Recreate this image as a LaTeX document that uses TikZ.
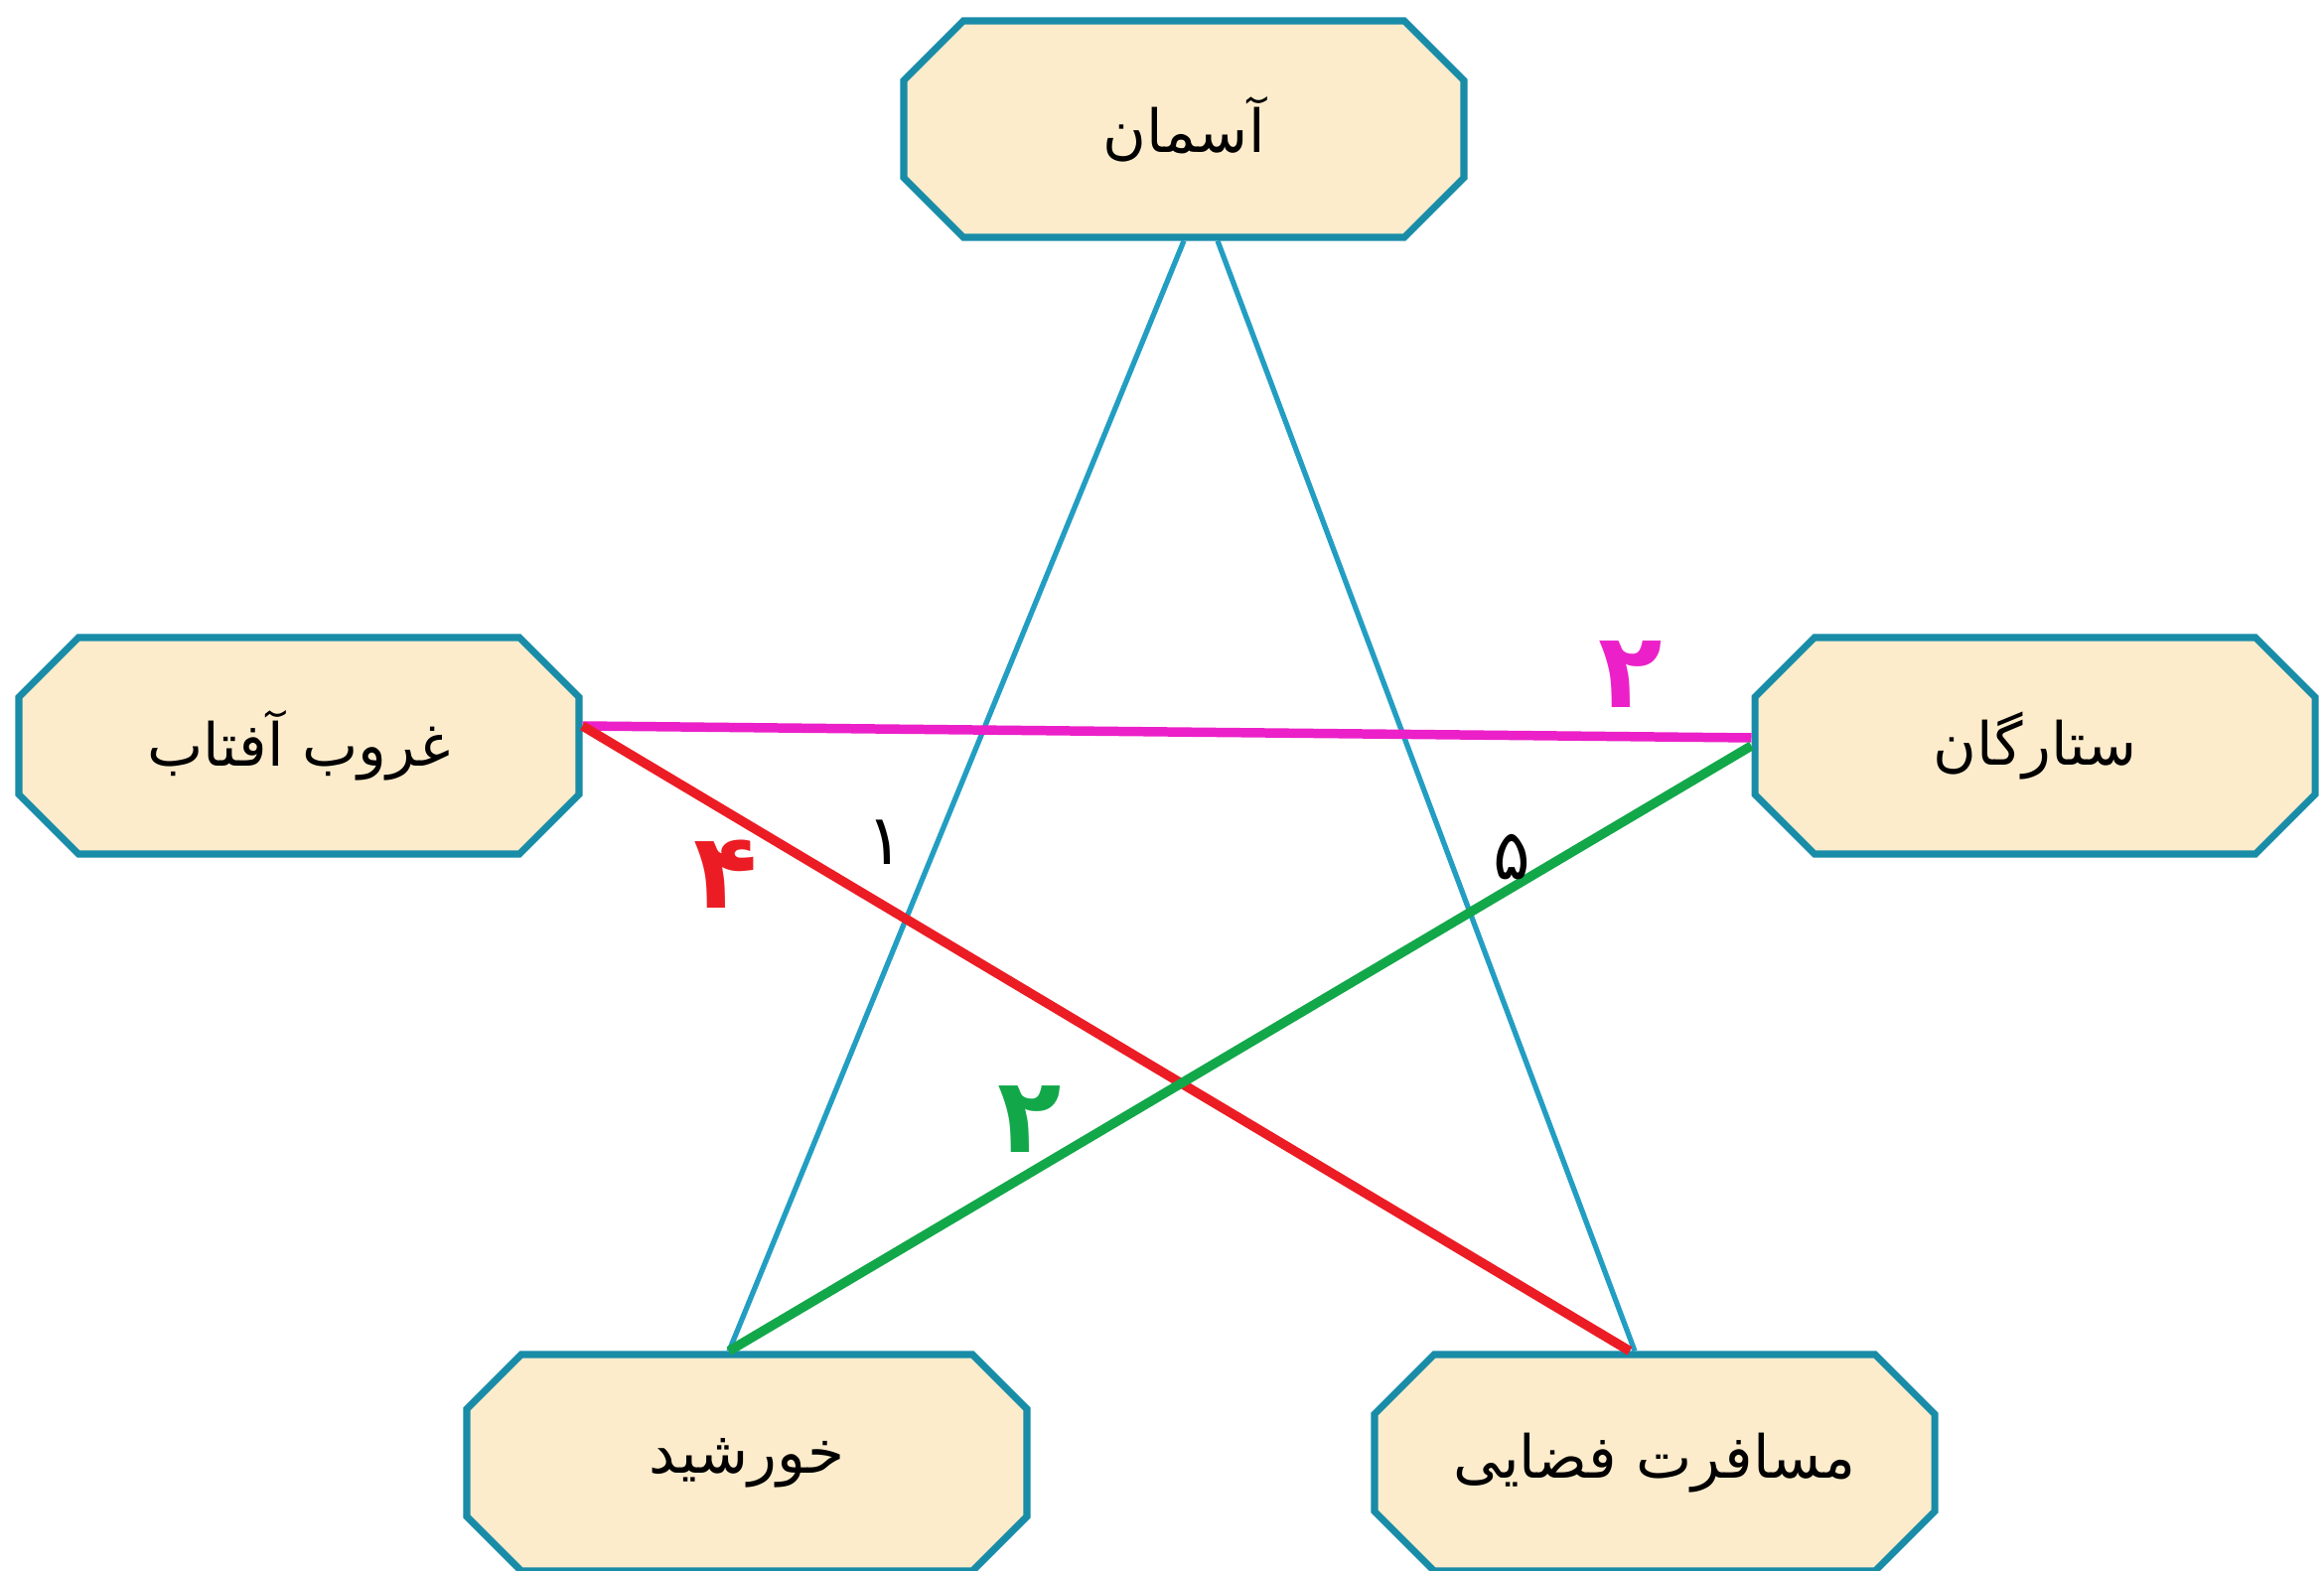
\documentclass[tikz,border=0pt]{standalone}
\usepackage{fontspec}
\newfontfamily\arabicfont[Script=Arabic]{DejaVu Sans}
\TeXXeTstate=1
\usetikzlibrary{shapes.misc, positioning, calc}
\definecolor{boxedge}{RGB}{25,140,168}
\definecolor{boxfill}{RGB}{252,236,204}
\definecolor{linkblue}{RGB}{35,158,195}
\definecolor{linkred}{RGB}{236,28,36}
\definecolor{linkpink}{RGB}{236,32,200}
\definecolor{linkgreen}{RGB}{18,168,74}

\begin{document}
\begin{tikzpicture}[
  every node/.style={font=\arabicfont\fontsize{17}{21}\selectfont},
  topic/.style={chamfered rectangle, chamfered rectangle xsep=0.3cm,
    chamfered rectangle ysep=0.3cm,
    draw=boxedge, fill=boxfill, line width=2pt,
    minimum width=5.64cm, minimum height=2.18cm, inner sep=0pt},
  thin link/.style={draw=linkblue, line width=1.5pt},
  thick link/.style={line width=2.7pt},
  mark num/.style={font=\arabicfont\bfseries\fontsize{30}{34}\selectfont},
  angle num/.style={font=\arabicfont\fontsize{20}{24}\selectfont}
]
\useasboundingbox (0,0) rectangle (23.4,15.81);

% Boxes
\node [topic] (sky) at (11.92,14.51) {\beginR آسمان\endR};
\node [topic] (sunset) at (3.01,8.30) {\beginR غروب آفتاب\endR};
\node [topic] (stars) at (20.49,8.30) {\beginR ستارگان\endR};
\node [topic] (sun) at (7.52,1.08) {\beginR خورشید\endR};
\node [topic] (travel) at (16.66,1.08) {\beginR مسافرت فضایی\endR};

% Blue connectors
\draw [thin link] (sky.south) -- ([xshift=-0.18cm]sun.north);
\draw [thin link] ([xshift=0.34cm]sky.south) -- ([xshift=-0.2cm]travel.north);

% Coloured connectors
\draw [thick link, linkpink] ([yshift=0.2cm]sunset.east) -- ([yshift=0.08cm]stars.west);
\draw [thick link, linkred] ([yshift=0.2cm]sunset.east) -- ([xshift=-0.25cm]travel.north);
\draw [thick link, linkgreen] (stars.west) -- ([xshift=-0.18cm]sun.north);

% Numbers
\node [mark num, text=linkpink] (npink) at (16.42,9.02) {۲};
\node [mark num, text=linkred] (nred) at (7.31,7.01) {۴};
\node [mark num, text=linkgreen] (ngreen) at (10.37,4.54) {۲};
\node [angle num] (none) at (8.91,7.33) {۱};
\node [angle num] (nfive) at (15.22,7.18) {۵};
\end{tikzpicture}
\end{document}
